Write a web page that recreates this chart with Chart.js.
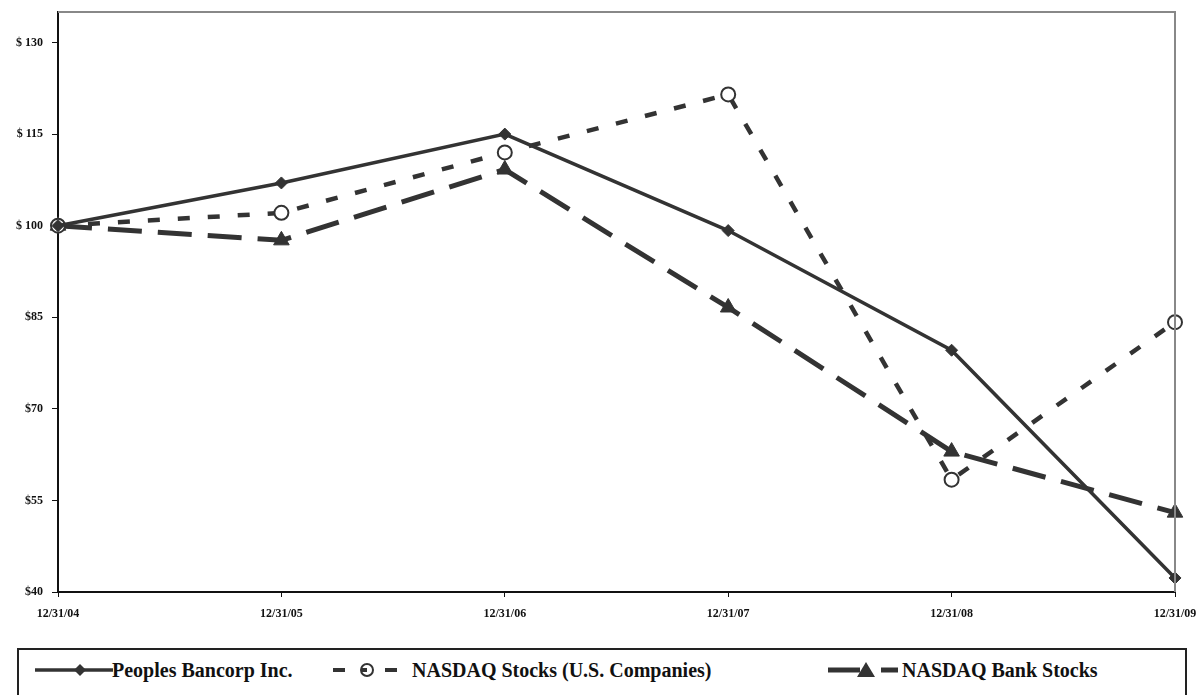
<!DOCTYPE html>
<html>
<head>
<meta charset="utf-8">
<script src="https://cdn.jsdelivr.net/npm/chart.js@4"></script>
<style>
  body { margin: 0; background: #fff; width: 1200px; height: 695px; position: relative; overflow: hidden; }
  #wrap { position: absolute; left: 0; top: 0; width: 1200px; height: 640px; }
  #legendBox { position: absolute; left: 17px; top: 648px; width: 1170px; height: 60px; border: 2px solid #222; box-sizing: border-box; }
  .lg { position: absolute; font-family: 'Liberation Serif', 'Times New Roman', serif; font-weight: bold; font-size: 20px; color: #111; top: 659px; white-space: nowrap; }
  .sw { position: absolute; top: 660px; }
</style>
</head>
<body>
<div id="wrap"><canvas id="perfChart"></canvas></div>

<div id="legendBox"></div>
<svg class="sw" style="left:35px" width="78" height="20">
  <line x1="0" y1="10" x2="78" y2="10" stroke="#333" stroke-width="3.5"/>
  <polygon points="45,4 51,10 45,16 39,10" fill="#333"/>
</svg>
<div class="lg" style="left:112px">Peoples Bancorp Inc.</div>
<svg class="sw" style="left:333px" width="70" height="20">
  <line x1="0" y1="10" x2="12" y2="10" stroke="#333" stroke-width="4"/>
  <circle cx="34" cy="10" r="6" fill="#fff" stroke="#333" stroke-width="2"/>
  <line x1="28" y1="10" x2="34" y2="10" stroke="#333" stroke-width="4"/>
  <line x1="52" y1="10" x2="64" y2="10" stroke="#333" stroke-width="4"/>
</svg>
<div class="lg" style="left:412px">NASDAQ Stocks (U.S. Companies)</div>
<svg class="sw" style="left:828px" width="72" height="20">
  <line x1="0" y1="10" x2="32" y2="10" stroke="#333" stroke-width="5"/>
  <polygon points="38,2 47,17 29,17" fill="#333"/>
  <line x1="53" y1="10" x2="70" y2="10" stroke="#333" stroke-width="5"/>
</svg>
<div class="lg" style="left:902px">NASDAQ Bank Stocks</div>

<script>
const categories = ['12/31/04', '12/31/05', '12/31/06', '12/31/07', '12/31/08', '12/31/09'];
const peoplesBancorp = [100, 107.0, 115.0, 99.2, 79.6, 42.3];
const nasdaqStocks = [100, 102.1, 112.0, 121.5, 58.4, 84.2];
const nasdaqBankStocks = [100, 97.6, 109.2, 86.6, 63.0, 53.0];
const yTicks = [40, 55, 70, 85, 100, 115, 130];
const yTickLabels = ['$40', '$55', '$70', '$85', '$ 100', '$ 115', '$ 130'];

const tickFont = { family: "'Liberation Serif', 'Times New Roman', serif", size: 12, weight: 'bold' };

// gray top and right frame of the plot area
const frame = {
    id: 'frame',
    afterDraw(chart) {
        const a = chart.chartArea;
        const c = chart.ctx;
        c.save();
        c.strokeStyle = '#888';
        c.lineWidth = 2;
        c.beginPath();
        c.moveTo(a.left, a.top);
        c.lineTo(a.right, a.top);
        c.lineTo(a.right, a.bottom);
        c.stroke();
        c.restore();
    }
};

const ctx = document.getElementById('perfChart').getContext('2d');
const perfChart = new Chart(ctx, {
    type: 'line',
    data: {
        labels: categories,
        datasets: [
            {
                label: 'Peoples Bancorp Inc.',
                data: peoplesBancorp,
                borderColor: '#333',
                backgroundColor: '#333',
                borderWidth: 3.5,
                pointStyle: 'rectRot',
                pointRadius: 6,
                pointBorderWidth: 1,
                tension: 0
            },
            {
                label: 'NASDAQ Stocks (U.S. Companies)',
                data: nasdaqStocks,
                borderColor: '#333',
                backgroundColor: '#fff',
                borderWidth: 4.5,
                borderDash: [12, 18],
                pointStyle: 'circle',
                pointRadius: 7,
                pointBorderWidth: 2,
                tension: 0
            },
            {
                label: 'NASDAQ Bank Stocks',
                data: nasdaqBankStocks,
                borderColor: '#333',
                backgroundColor: '#333',
                borderWidth: 5,
                borderDash: [34, 16],
                pointStyle: 'triangle',
                pointRadius: 9,
                pointBorderWidth: 1,
                tension: 0
            }
        ]
    },
    options: {
        responsive: true,
        maintainAspectRatio: false,
        animation: false,
        layout: { padding: { top: 12, right: 25, left: 0, bottom: 0 } },
        plugins: { legend: { display: false }, tooltip: { enabled: false } },
        scales: {
            x: {
                offset: false,
                grid: { display: true, drawOnChartArea: false, color: '#111', tickLength: 5 },
                border: { color: '#111', width: 2 },
                ticks: { font: tickFont, color: '#111', padding: 10, maxRotation: 0, autoSkip: false },
                afterFit(scale) {
                    scale.height = 48;
                    scale.paddingLeft = 0;
                    scale.paddingRight = 0;
                }
            },
            y: {
                min: 40,
                max: 135,
                grid: { display: true, drawOnChartArea: false, color: '#111', tickLength: 6 },
                border: { color: '#111', width: 2 },
                ticks: {
                    font: tickFont,
                    color: '#111',
                    padding: 9,
                    includeBounds: false,
                    callback: function(v) {
                        const i = yTicks.indexOf(v);
                        return i >= 0 ? yTickLabels[i] : null;
                    }
                },
                afterBuildTicks(scale) { scale.ticks = yTicks.map(v => ({ value: v })); },
                afterFit(scale) {
                    scale.width = 58;
                    scale.paddingTop = 0;
                    scale.paddingBottom = 0;
                }
            }
        }
    },
    plugins: [frame]
});
</script>
</body>
</html>
